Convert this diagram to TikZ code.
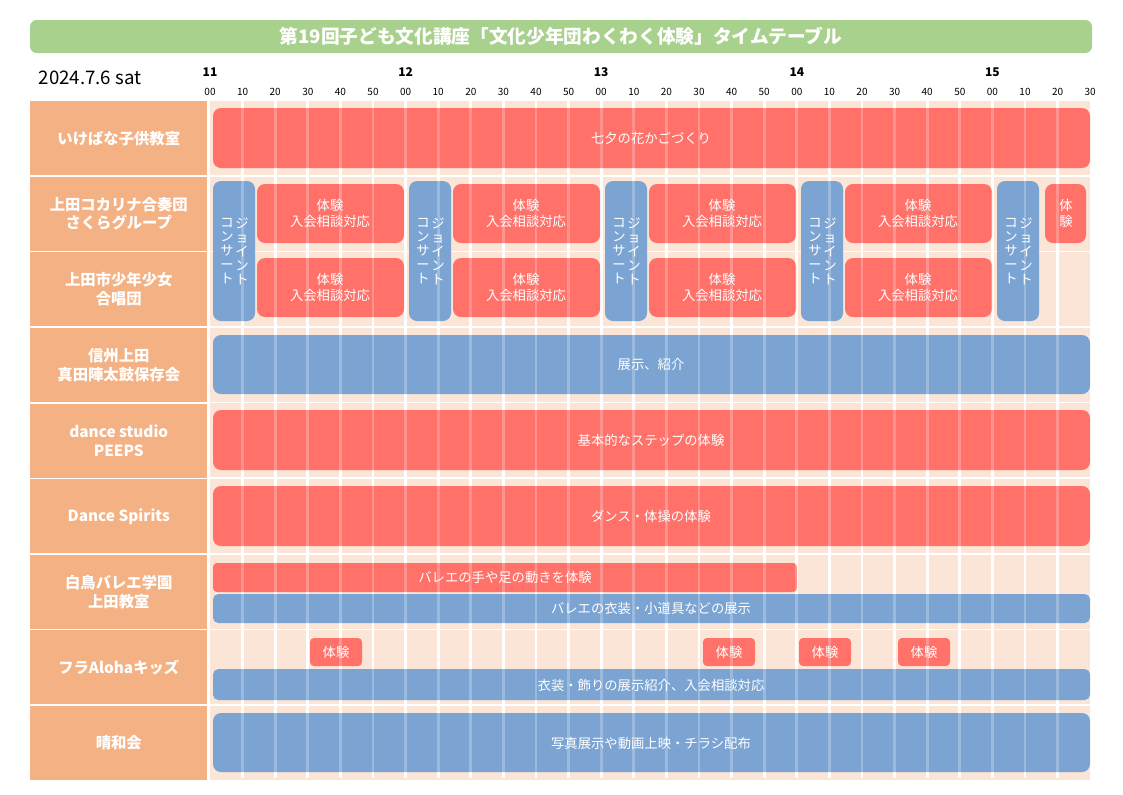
\documentclass[tikz,border=0pt]{standalone}
\usepackage{fontspec}
\setmainfont{Noto Sans CJK JP}
\definecolor{titlegreen}{HTML}{A9D18E}
\definecolor{labelorange}{HTML}{F4B183}
\definecolor{cellpeach}{HTML}{FBE5D6}
\definecolor{barred}{HTML}{FF7169}
\definecolor{barblue}{HTML}{7BA4D3}
\tikzset{
  redbar/.style={fill=barred, draw=none, rounded corners=6},
  bluebar/.style={fill=barblue, draw=none, rounded corners=6},
  bartext/.style={text=white, font=\fontsize{10}{12}\selectfont, align=center},
  rowlabel/.style={fill=labelorange, text=white, font=\fontsize{11.5}{14}\selectfont\bfseries, align=center, inner sep=0pt},
  vtext/.style={text=white, font=\fontsize{10}{10.5}\selectfont, align=center, inner sep=0pt}
}
\newcommand{\sx}[1]{210+32.6*#1}
\begin{document}
\begin{tikzpicture}[x=0.75pt, y=-0.75pt]
  \useasboundingbox (0,0) rectangle (1123,794);
  % title
  \fill[titlegreen, rounded corners=5] (30,20) rectangle (1092,53);
  \node[text=white, font=\fontsize{14}{16}\selectfont\bfseries] (title) at (561,36)
    {第19回子ども文化講座「文化少年団わくわく体験」タイムテーブル};
  \node[anchor=west, font=\fontsize{14}{16}\selectfont] (date) at (34,78) {2024.7.6 sat};
  % time axis
  \foreach \h [count=\i from 0] in {11,12,13,14,15}
    \node[font=\fontsize{9}{10}\selectfont\bfseries] (hour\h) at ({\sx{6*\i}},72) {\h};
  \foreach \m [count=\i from 0] in {00,10,20,30,40,50,00,10,20,30,40,50,00,10,20,30,40,50,00,10,20,30,40,50,00,10,20,30}
    \node[font=\fontsize{7.5}{9}\selectfont] (min\i) at ({\sx{\i}},92) {\m};
  % rows
  \foreach \lab [count=\r from 0] in {いけばな子供教室, {上田コカリナ合奏団\\さくらグループ}, {上田市少年少女\\合唱団}, {信州上田\\真田陣太鼓保存会}, {dance studio\\PEEPS}, Dance Spirits, {白鳥バレエ学園\\上田教室}, フラAlohaキッズ, 晴和会} {
    \fill[cellpeach] (210,{101+75.6*\r}) rectangle (1090,{175+75.6*\r});
    \node[rowlabel, minimum width=177*0.75pt, minimum height=74*0.75pt, anchor=north west] (row\r) at (30,{101+75.6*\r}) {\lab};
  }
  \foreach \i in {1,...,26}
    \draw[white, line width=2.2pt] ({\sx{\i}},101) -- ({\sx{\i}},778);
  % row 1
  \draw[redbar] (213,108) rectangle (1090,168);
  \node[bartext] (b1) at (651,138) {七夕の花かごづくり};
  % rows 2-3 : concert and trial blocks
  \foreach \k in {0,...,4} {
    \draw[bluebar] ({213+196*\k},181) rectangle ({255+196*\k},321);
    \node[vtext] (jo\k) at ({242+196*\k},251) {ジ\\ョ\\イ\\ン\\ト};
    \node[vtext] (ko\k) at ({227+196*\k},251) {コ\\ン\\サ\\ー\\ト};
  }
  \foreach \k in {0,...,3} {
    \draw[redbar] ({257+196*\k},184) rectangle ({404+196*\k},243);
    \node[bartext] (t2\k) at ({330+196*\k},213) {体験\\入会相談対応};
    \draw[redbar] ({257+196*\k},258) rectangle ({404+196*\k},317);
    \node[bartext] (t3\k) at ({330+196*\k},287) {体験\\入会相談対応};
  }
  \draw[redbar] (1045,184) rectangle (1086,243);
  \node[bartext] (t2x) at (1066,213) {体\\験};
  % row 4
  \draw[bluebar] (213,335) rectangle (1090,394);
  \node[bartext] (b4) at (651,364) {展示、紹介};
  % row 5
  \draw[redbar] (213,410) rectangle (1090,470);
  \node[bartext] (b5) at (651,440) {基本的なステップの体験};
  % row 6
  \draw[redbar] (213,486) rectangle (1090,546);
  \node[bartext] (b6) at (651,516) {ダンス・体操の体験};
  % row 7
  \draw[redbar, rounded corners=3] (213,563) rectangle (797,592);
  \node[bartext] (b7a) at (505,577) {バレエの手や足の動きを体験};
  \draw[bluebar, rounded corners=4] (213,594) rectangle (1090,623);
  \node[bartext] (b7b) at (651,608) {バレエの衣装・小道具などの展示};
  % row 8
  \foreach \xa in {310,703,799,898} {
    \draw[redbar, rounded corners=3] (\xa,638) rectangle ({\xa+52},666);
    \node[bartext] at ({\xa+26},652) {体験};
  }
  \draw[bluebar, rounded corners=4] (213,669) rectangle (1090,700);
  \node[bartext] (b8) at (651,685) {衣装・飾りの展示紹介、入会相談対応};
  % row 9
  \draw[bluebar] (213,713) rectangle (1090,772);
  \node[bartext] (b9) at (651,743) {写真展示や動画上映・チラシ配布};
  % grid over bars
  \foreach \i in {1,...,26}
    \draw[white, line width=2.2pt, opacity=0.25] ({\sx{\i}},101) -- ({\sx{\i}},778);
\end{tikzpicture}
\end{document}
